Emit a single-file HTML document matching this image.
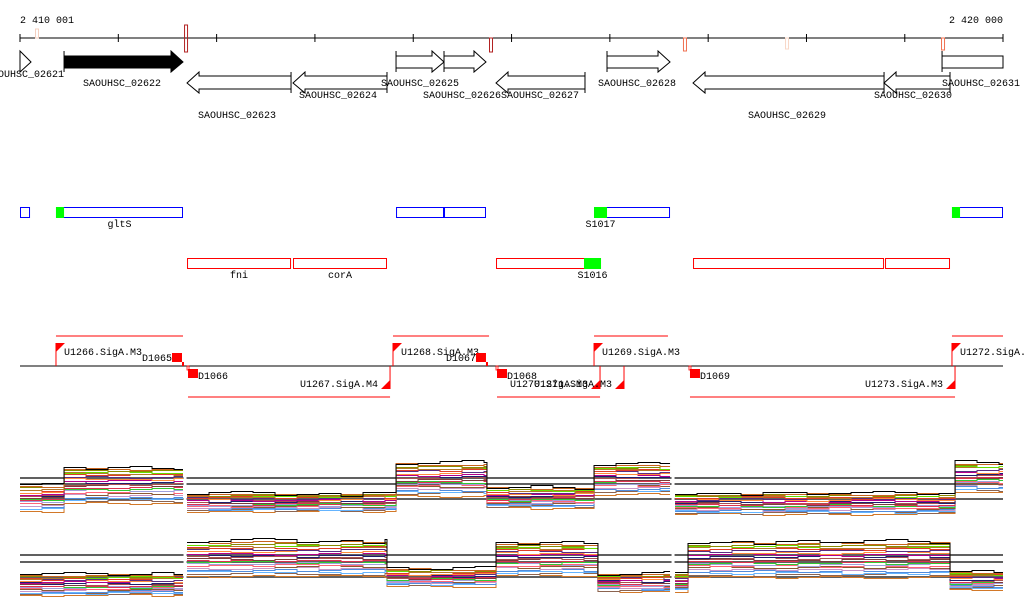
<!DOCTYPE html>
<html><head><meta charset="utf-8"><style>
html,body{margin:0;padding:0;background:#fff;}
svg{display:block;font-family:"Liberation Mono","DejaVu Sans Mono",monospace;font-size:10px;}
</style></head><body>
<svg id="c" width="1024" height="611" viewBox="0 0 1024 611" xmlns="http://www.w3.org/2000/svg">
<g id="ruler"></g>
<g id="genes"></g>
<g id="ops"></g>
<g id="prom"></g>
<g id="expr"></g>
</svg>
<script>
const NS='http://www.w3.org/2000/svg';
function mk(tag,attrs,parent,txt){const e=document.createElementNS(NS,tag);for(const k in attrs)e.setAttribute(k,attrs[k]);if(txt!==undefined)e.textContent=txt;parent.appendChild(e);return e;}

const startBp=2410001, endBp=2420000;
function X(bp){return 20+(bp-startBp)/(endBp-startBp)*983;}
function bpOf(x){return Math.round(startBp+(x-20)/983*(endBp-startBp));}

const tickBp=[2410001,2411001,2412001,2413001,2414001,2415001,2416001,2417001,2418001,2419001,2420000];
const tickLabels=['2 410 001','2 420 000'];
const markerBp=[bpOf(37),bpOf(186),bpOf(491),bpOf(685),bpOf(787),bpOf(943)];
const markerColors=['#f5d0c0','#b22222','#b22222','#f07050','#f8d8c8','#f07050'];
const markerTops=[29,25,38,38,38,38];
const markerBots=[38,52,52,51,49,50];

const geneNames=['SAOUHSC_02621','SAOUHSC_02622','SAOUHSC_02623','SAOUHSC_02624','SAOUHSC_02625','SAOUHSC_02626','SAOUHSC_02627','SAOUHSC_02628','SAOUHSC_02629','SAOUHSC_02630','SAOUHSC_02631'];
const geneStart=[bpOf(20),bpOf(64),bpOf(187),bpOf(293),bpOf(396),bpOf(444),bpOf(496),bpOf(607),bpOf(693),bpOf(884),bpOf(942)];
const geneEnd=[bpOf(31),bpOf(183),bpOf(291),bpOf(387),bpOf(444),bpOf(486),bpOf(585),bpOf(670),bpOf(884),bpOf(950),bpOf(1003)];
const geneStrand=[1,1,-1,-1,1,1,-1,1,-1,-1,0];
const geneLabelX=[25,122,237,338,420,462,540,637,787,913,981];
const geneLabelY=[77,86,118,98,86,98,98,86,118,98,86];

const opStart=[bpOf(20),bpOf(56),bpOf(396),bpOf(444),bpOf(594),bpOf(952),bpOf(187),bpOf(293),bpOf(496),bpOf(693),bpOf(885)];
const opEnd=[bpOf(30),bpOf(183),bpOf(444),bpOf(486),bpOf(670),bpOf(1003),bpOf(291),bpOf(387),bpOf(601),bpOf(884),bpOf(950)];
const opStrand=[1,1,1,1,1,1,-1,-1,-1,-1,-1];
const opGreenStart=[null,bpOf(56),null,null,bpOf(594),bpOf(952),null,null,bpOf(584),null,null];
const opGreenEnd=[null,bpOf(64),null,null,bpOf(607),bpOf(960),null,null,bpOf(601),null,null];
const opLabels=['','gltS','','','S1017','','fni','corA','S1016','',''];

const promNames=['U1266.SigA.M3','U1267.SigA.M4','U1268.SigA.M3','U1269.SigA.M3','U1270.SigA.M3','U1271.SigA.M3','U1273.SigA.M3','U1272.SigA.M3'];
const promBp=[bpOf(56),bpOf(390),bpOf(393),bpOf(594),bpOf(600),bpOf(624),bpOf(955),bpOf(952)];
const promStrand=[1,-1,1,1,-1,-1,-1,1];
const termNames=['D1065','D1066','D1067','D1068','D1069'];
const termBp=[bpOf(183),bpOf(188),bpOf(487),bpOf(497),bpOf(690)];
const termStrand=[1,-1,1,-1,-1];
const utrStart=[bpOf(56),bpOf(393),bpOf(594),bpOf(952),bpOf(188),bpOf(497),bpOf(690)];
const utrEnd=[bpOf(183),bpOf(489),bpOf(668),bpOf(1003),bpOf(390),bpOf(600),bpOf(955)];
const utrStrand=[1,1,1,1,-1,-1,-1];

const expr1SegStart=[bpOf(20),bpOf(64),bpOf(187),bpOf(396),bpOf(487),bpOf(594),bpOf(675),bpOf(955)];
const expr1SegEnd=[bpOf(64),bpOf(183),bpOf(396),bpOf(487),bpOf(594),bpOf(670),bpOf(955),bpOf(1003)];
const expr1Level=[0.33,0.56,0.24,0.67,0.33,0.67,0.22,0.71];
const expr1Spread=[0.45,0.6,0.3,0.55,0.35,0.5,0.35,0.5];
const expr2SegStart=[bpOf(20),bpOf(187),bpOf(387),bpOf(496),bpOf(598),bpOf(675),bpOf(688),bpOf(950)];
const expr2SegEnd=[bpOf(183),bpOf(387),bpOf(496),bpOf(598),bpOf(670),bpOf(688),bpOf(950),bpOf(1003)];
const expr2Level=[0.2,0.69,0.33,0.67,0.24,0.24,0.67,0.27];
const expr2Spread=[0.35,0.6,0.3,0.55,0.3,0.3,0.6,0.3];
const seriesOffset=[1.0,0.95,0.9,0.86,0.82,0.78,0.72,0.66,0.6,0.55,0.5,0.45,0.4,0.35,0.3,0.26,0.22,0.16,0.1,0.05,0.0,-0.08];
const wigglePattern=[0,0.03,0.05,0.02,-0.02,0.01,0.04,0,-0.03,-0.01,0.02,0.05,0.03,-0.02,0,0.01,-0.04,0.02,0.03,-0.01];
const seriesColors=['#000000','#c8641e','#8b8b00','#66dd00','#b47828','#e03c28','#5a2d82','#ff8c3c','#b4008c','#1e1e6e','#aa5050','#7b3c3c','#dc3250','#32c832','#a0a0dc','#ff6478','#8c5a32','#c896c8','#508cdc','#64b4ff','#8c6450','#d27828'];

function Ey1(v){return 515-v*55;}
function Ey2(v){return 595-v*55;}

const R=document.getElementById('ruler');
let l=mk('line',{x1:20,y1:38,x2:1003,y2:38,stroke:'#000'},R);

tickBp.forEach(b=>{const t=mk('line',{x1:X(b),y1:34,x2:X(b),y2:42,stroke:'#000'},R);
});
let tl=mk('text',{x:20,y:23},R,tickLabels[0]);
tl=mk('text',{x:1003,y:23,'text-anchor':'end'},R,tickLabels[1]);
markerBp.forEach((b,i)=>{const r=mk('rect',{x:X(b)-1.5,y:markerTops[i],width:3,height:markerBots[i]-markerTops[i],fill:'none',stroke:markerColors[i]},R);
});

const G=document.getElementById('genes');
geneNames.forEach((n,i)=>{
 const x1=X(geneStart[i]),x2=X(geneEnd[i]);let d;
 const fill=i===1?'#000':'#fff';
 if(geneStrand[i]===1){
  if(x2-x1<14){d=`M${x1},51 L${x2},62 L${x1},72 Z`;}
  else d=`M${x1},51 L${x1},72 M${x1},68 L${x2-12},68 L${x2-12},72 L${x2},62 L${x2-12},51 L${x2-12},56 L${x1},56`;
  if(i===1)d=`M${x1},56 L${x2-12},56 L${x2-12},51 L${x2},62 L${x2-12},72 L${x2-12},68 L${x1},68 Z M${x1},51 L${x1},72`;
 } else if(geneStrand[i]===-1){
  d=`M${x2},72 L${x2},93 M${x2},76 L${x1+12},76 L${x1+12},72 L${x1},83 L${x1+12},93 L${x1+12},89 L${x2},89`;
 } else {d=`M${x1},51 L${x1},72 M${x1},56 L${x2},56 L${x2},68 L${x1},68`;}
 const p=mk('path',{d:d,fill:fill,stroke:'#000','stroke-width':1},G);
 
 const t=mk('text',{x:geneLabelX[i],y:geneLabelY[i],'text-anchor':'middle'},G,n);
 
});

const O=document.getElementById('ops');
opStart.forEach((s,i)=>{
 const y=opStrand[i]===1?207:258;const c=opStrand[i]===1?'#0000ff':'#ff0000';
 const r=mk('rect',{x:X(s)+0.5,y:y+0.5,width:X(opEnd[i])-X(s)-1,height:10,fill:'none',stroke:c},O);
 
 if(opGreenStart[i]!==null){const g=mk('rect',{x:X(opGreenStart[i]),y:y,width:X(opGreenEnd[i])-X(opGreenStart[i]),height:11,fill:'#00ff00'},O);
 }
 if(opLabels[i]){const lx=opGreenStart[i]!==null&&i!==1?(X(opGreenStart[i])+X(opGreenEnd[i]))/2:(X(s)+X(opEnd[i]))/2;
 const t=mk('text',{x:lx,y:y+20,'text-anchor':'middle'},O,opLabels[i]);}
});

const P=document.getElementById('prom');
l=mk('line',{x1:20,y1:366,x2:1003,y2:366,stroke:'#000'},P);
utrStart.forEach((s,i)=>{const y=utrStrand[i]===1?336:397;const u=mk('line',{x1:X(s),y1:y,x2:X(utrEnd[i]),y2:y,stroke:'#ff0000'},P);
});
promNames.forEach((n,i)=>{
 const x=X(promBp[i]);const g=mk('g',{},P);
 
 if(promStrand[i]===1){mk('line',{x1:x,y1:343,x2:x,y2:366,stroke:'#f00'},g);mk('path',{d:`M${x},343 L${x+9},343 L${x},352 Z`,fill:'#f00'},g);
  mk('text',{x:x+8,y:355},g,n);}
 else{mk('line',{x1:x,y1:366,x2:x,y2:389,stroke:'#f00'},g);mk('path',{d:`M${x},389 L${x-9},389 L${x},380 Z`,fill:'#f00'},g);
  mk('text',{x:x-12,y:387,'text-anchor':'end'},g,n);}
});
termNames.forEach((n,i)=>{
 const x=X(termBp[i]);const g=mk('g',{},P);
 
 if(termStrand[i]===1){mk('rect',{x:x-11,y:353,width:10,height:9,fill:'#f00'},g);mk('rect',{x:x-1,y:362,width:2,height:4,fill:'#f00'},g);
  mk('text',{x:x-11,y:361,'text-anchor':'end'},g,n);}
 else{mk('rect',{x:x,y:369,width:10,height:9,fill:'#f00'},g);mk('rect',{x:x-1,y:366,width:2,height:4,fill:'none',stroke:'#f00','stroke-width':0.8},g);
  mk('text',{x:x+10,y:379},g,n);}
});

const E=document.getElementById('expr');
function drawTrack(segS,segE,lev,spr,Ey,refs,gaps,name){
 const g=mk('g',{},E);
 refs.forEach(y=>{const r=mk('line',{x1:20,y1:y,x2:1003,y2:y,stroke:'#000','stroke-width':1.3},g);
  });
 const P=wigglePattern.length;
 const STEP=22;
 for(let k=seriesOffset.length-1;k>=0;k--){
  const o=seriesOffset[k];let d='';let step=0;
  segS.forEach((s,j)=>{
   const x1=X(s),x2=X(segE[j]);
   const base=lev[j]+(o-0.5)*spr[j];
   const amp=k===0?1.0:0.5;
   const brk=j===0||gaps.some(gx=>Math.abs(gx-x1)<3);
   for(let x=x1;x<x2;x+=STEP){
    const y=Math.round(Ey(base+wigglePattern[(step+k*7)%P]*amp))+0.5;step++;
    const xe=Math.min(x+STEP,x2);
    d+=(brk&&x===x1?'M':'L')+x+','+y+'L'+xe+','+y;
   }
  });
  const p=mk('path',{d:d,fill:'none',stroke:seriesColors[k],'stroke-width':1},g);
  
 }
 gaps.forEach(gx=>{const w=mk('rect',{x:gx-3.5,y:Ey(1.15),width:3,height:70,fill:'#fff'},g);
  });
}
drawTrack(expr1SegStart,expr1SegEnd,expr1Level,expr1Spread,Ey1,[478,484,499],[X(bpOf(187)),X(bpOf(675))],'expression-track-1');
drawTrack(expr2SegStart,expr2SegEnd,expr2Level,expr2Spread,Ey2,[555,562,577],[X(bpOf(187)),X(bpOf(675))],'expression-track-2');
</script>
</body></html>
